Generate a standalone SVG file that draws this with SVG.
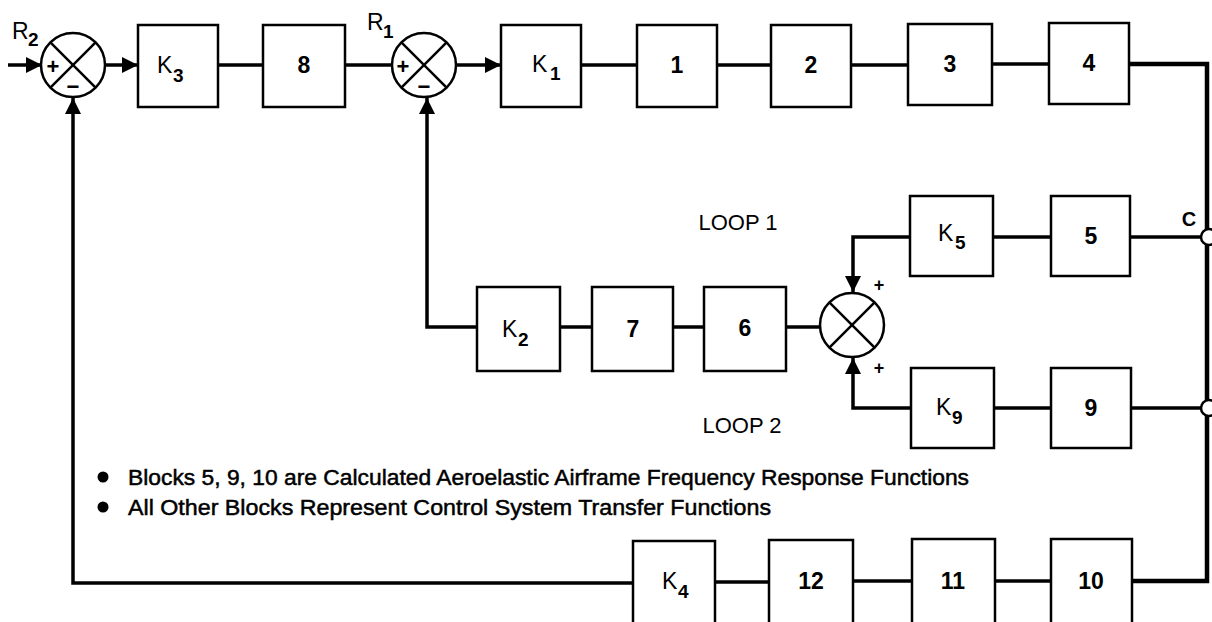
<svg xmlns="http://www.w3.org/2000/svg" width="1212" height="622" viewBox="0 0 1212 622">
<style>
.box{fill:#fff;stroke:#000;stroke-width:2.5}
.w{fill:none;stroke:#000;stroke-width:3.5}
.wt{fill:none;stroke:#000;stroke-width:4.5}
.j{fill:#fff;stroke:#000;stroke-width:2.5}
.x{stroke:#000;stroke-width:2.5}
.t{font-family:"Liberation Sans",Arial,sans-serif;fill:#000}
.n{font-size:23px;font-weight:bold;text-anchor:middle}
.k{font-size:23px}
.s{font-size:19px;font-weight:bold}
.note{font-size:22px;stroke:#000;stroke-width:0.5}
.sg{font-size:22px;font-weight:bold;text-anchor:middle}
.sg2{font-size:18px;font-weight:bold;text-anchor:middle}
.lp{font-size:22px;text-anchor:middle}
</style>
<defs>
<marker id="ar" viewBox="0 0 10 10" markerUnits="userSpaceOnUse" markerWidth="20" markerHeight="16" refX="10" refY="5" orient="auto">
<path d="M0,0 L10,5 L0,10 z" fill="#000"/>
</marker>
</defs>
<rect width="1212" height="622" fill="#fff"/>

<g id="connectors">
<path class="w" d="M8,65 H42" marker-end="url(#ar)"/>
<path class="w" d="M105,65 H138" marker-end="url(#ar)"/>
<path class="w" d="M218,65 H263"/>
<path class="w" d="M345,65 H392"/>
<path class="w" d="M456,65 H501" marker-end="url(#ar)"/>
<path class="w" d="M581,65 H637"/>
<path class="w" d="M717,65 H771"/>
<path class="w" d="M851,65 H908"/>
<path class="w" d="M992,64 H1049"/>
<path class="wt" d="M1129,64 H1207 V581 H1132"/>
<path class="w" d="M1130,237 H1202"/>
<path class="w" d="M1131,408 H1202"/>
<path class="w" d="M1051,237 H993"/>
<path class="w" d="M910,237 H853 V292" marker-end="url(#ar)"/>
<path class="w" d="M1051,408 H994"/>
<path class="w" d="M911,408 H853 V358" marker-end="url(#ar)"/>
<path class="w" d="M820,327 H786"/>
<path class="w" d="M704,327 H673"/>
<path class="w" d="M592,327 H560"/>
<path class="w" d="M477,327 H427 V98" marker-end="url(#ar)"/>
<path class="w" d="M1051,581 H995"/>
<path class="w" d="M912,581 H853"/>
<path class="w" d="M769,582 H715"/>
<path class="w" d="M633,583 H73 V98" marker-end="url(#ar)"/>
<circle class="j" cx="1209" cy="237" r="8" stroke-width="3"/>
<circle class="j" cx="1209" cy="408" r="8" stroke-width="3"/>
</g>

<g id="sum-r2">
<circle class="j" cx="73" cy="65" r="32"/>
<line class="x" x1="50.4" y1="42.4" x2="95.6" y2="87.6"/>
<line class="x" x1="95.6" y1="42.4" x2="50.4" y2="87.6"/>
<text class="t sg" x="53" y="74">+</text>
<text class="t sg" x="73" y="94">−</text>
<text class="t k" x="12" y="39">R</text>
<text class="t s" x="28" y="46">2</text>
</g>

<g id="sum-r1">
<circle class="j" cx="424" cy="65" r="32"/>
<line class="x" x1="401.4" y1="42.4" x2="446.6" y2="87.6"/>
<line class="x" x1="446.6" y1="42.4" x2="401.4" y2="87.6"/>
<text class="t sg" x="403" y="74">+</text>
<text class="t sg" x="424" y="94">−</text>
<text class="t k" x="367" y="30">R</text>
<text class="t s" x="383" y="38">1</text>
</g>

<g id="sum-loops">
<circle class="j" cx="852" cy="325" r="32"/>
<line class="x" x1="829.4" y1="302.4" x2="874.6" y2="347.6"/>
<line class="x" x1="874.6" y1="302.4" x2="829.4" y2="347.6"/>
<text class="t sg2" x="879" y="291">+</text>
<text class="t sg2" x="879" y="374">+</text>
</g>

<g id="k3"><rect class="box" x="138" y="25" width="80" height="82"/><text class="t k" x="157" y="73">K</text><text class="t s" x="173" y="82">3</text></g>
<g id="b8"><rect class="box" x="263" y="25" width="82" height="82"/><text class="t n" x="304" y="73">8</text></g>
<g id="k1"><rect class="box" x="501" y="25" width="80" height="82"/><text class="t k" x="532" y="72">K</text><text class="t s" x="550" y="80">1</text></g>
<g id="b1"><rect class="box" x="637" y="25" width="80" height="82"/><text class="t n" x="677" y="73">1</text></g>
<g id="b2"><rect class="box" x="771" y="25" width="80" height="82"/><text class="t n" x="811" y="73">2</text></g>
<g id="b3"><rect class="box" x="908" y="24" width="84" height="81"/><text class="t n" x="950" y="72">3</text></g>
<g id="b4"><rect class="box" x="1049" y="23" width="80" height="81"/><text class="t n" x="1089" y="71">4</text></g>

<g id="k5"><rect class="box" x="910" y="196" width="83" height="80"/><text class="t k" x="938" y="241">K</text><text class="t s" x="955" y="249">5</text></g>
<g id="b5"><rect class="box" x="1051" y="196" width="79" height="80"/><text class="t n" x="1091" y="244">5</text></g>

<g id="k2"><rect class="box" x="477" y="287" width="83" height="84"/><text class="t k" x="502" y="337">K</text><text class="t s" x="518" y="346">2</text></g>
<g id="b7"><rect class="box" x="592" y="287" width="81" height="84"/><text class="t n" x="633" y="337">7</text></g>
<g id="b6"><rect class="box" x="704" y="287" width="82" height="84"/><text class="t n" x="745" y="336">6</text></g>

<g id="k9"><rect class="box" x="911" y="368" width="83" height="80"/><text class="t k" x="936" y="415">K</text><text class="t s" x="952" y="424">9</text></g>
<g id="b9"><rect class="box" x="1051" y="368" width="80" height="80"/><text class="t n" x="1091" y="416">9</text></g>

<g id="k4"><rect class="box" x="633" y="541" width="82" height="100"/><text class="t k" x="662" y="589">K</text><text class="t s" x="678" y="598">4</text></g>
<g id="b12"><rect class="box" x="769" y="540" width="84" height="100"/><text class="t n" x="811" y="589">12</text></g>
<g id="b11"><rect class="box" x="912" y="539" width="83" height="100"/><text class="t n" x="953" y="589">11</text></g>
<g id="b10"><rect class="box" x="1051" y="539" width="81" height="100"/><text class="t n" x="1091" y="589">10</text></g>

<g id="labels">
<text class="t lp" x="738" y="230">LOOP 1</text>
<text class="t lp" x="742" y="433">LOOP 2</text>
<text class="t" x="1189" y="226" text-anchor="middle" font-size="20" font-weight="bold">C</text>
<circle cx="103" cy="477" r="5.5"/>
<circle cx="103" cy="507" r="5.5"/>
<text class="t note" x="128" y="485" textLength="841" lengthAdjust="spacingAndGlyphs">Blocks 5, 9, 10 are Calculated Aeroelastic Airframe Frequency Response Functions</text>
<text class="t note" x="128" y="515" textLength="643" lengthAdjust="spacingAndGlyphs">All Other Blocks Represent Control System Transfer Functions</text>
</g>
</svg>
